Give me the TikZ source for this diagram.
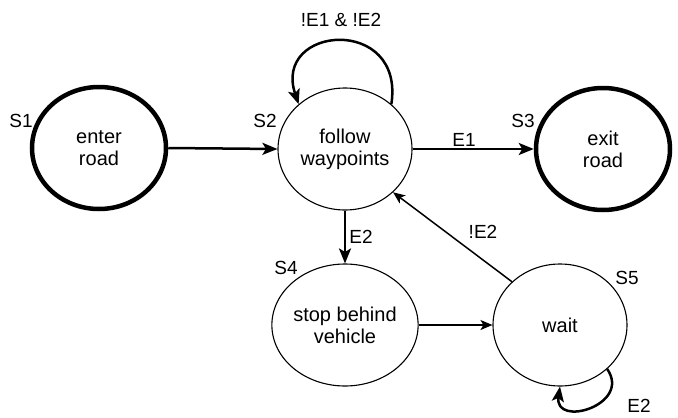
\documentclass[tikz,border=0pt]{standalone}
\usepackage{fontspec}
\setmainfont{Liberation Sans}
\usetikzlibrary{shapes.geometric,arrows.meta}
\begin{document}
\begin{tikzpicture}[x=1pt,y=-1pt,
  state/.style={ellipse,draw,minimum width=134pt,minimum height=122pt,inner sep=0pt,
    align=center,font=\fontsize{20}{22}\selectfont,line width=1.1pt},
  final/.style={state,line width=4.5pt},
  tag/.style={font=\fontsize{19}{22}\selectfont,inner sep=0pt},
  bold/.style={line width=2.5pt,-{Stealth[length=15pt,width=12pt,inset=3.5pt]}},
  thin/.style={line width=1.5pt,-{Stealth[length=12pt,width=10pt,inset=3pt]}}]
\useasboundingbox (0,0) rectangle (678,418);
\fill[white] (0,0) rectangle (678,418);

% states
\node[final] (s1) at (99,148) {enter\\road};
\node[state] (s2) at (345,149) {follow\\waypoints};
\node[final] (s3) at (603,149) {exit\\road};
\node[state] (s4) at (345,325) {stop behind\\vehicle};
\node[state] (s5) at (560,325) {wait};

% state names
\node[tag] (n1) at (21,121) {S1};
\node[tag] (n2) at (265,121) {S2};
\node[tag] (n3) at (523,121) {S3};
\node[tag] (n4) at (286,268) {S4};
\node[tag] (n5) at (627,278) {S5};

% transitions
\draw[bold] (s1.east) -- (s2.west);
\draw[bold] (s2.east) -- (s3.west);
\draw[bold] (s2.south) -- (s4.north);
\draw[thin] (s4.east) -- (s5.west);
\draw[thin] (s5.138) -- (s2.-42);
\draw[bold] (s2.44) .. controls (405,15) and (272,25) .. (s2.136);
\draw[bold] (s5.-43) .. controls (632,405) and (554,428) .. (s5.south);

% transition labels
\node[tag] (l1) at (341,20) {!E1 \& !E2};
\node[tag] (l2) at (464,140) {E1};
\node[tag] (l3) at (361,237) {E2};
\node[tag] (l4) at (483,232) {!E2};
\node[tag] (l5) at (639,406) {E2};
\end{tikzpicture}
\end{document}
